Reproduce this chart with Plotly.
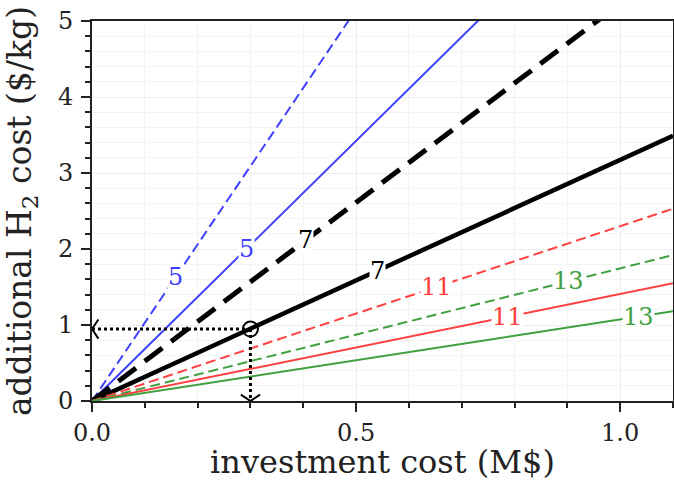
import plotly.graph_objects as go

# ---- data ----
x_max = 1.1
line_labels = ["5", "5", "7", "7", "11", "13", "11", "13"]
line_end_values = [11.33, 7.53, 5.75, 3.49, 2.53, 1.92, 1.55, 1.18]  # y at x = 1.1
line_colors = ["#4040ff", "#4040ff", "black", "black", "#ff4040", "#40a040", "#ff4040", "#40a040"]
line_dashes = ["10px,5px", "solid", "22px,11px", "solid", "10px,5px", "10px,5px", "solid", "solid"]
line_widths = [2, 2, 5, 4.5, 2, 2, 2, 2]
label_x = [0.159, 0.292, 0.405, 0.540, 0.652, 0.902, 0.786, 1.034]

point_x = 0.3
point_y = 0.947

x_ticks = [0.0, 0.5, 1.0]
x_tick_text = ["0.0", "0.5", "1.0"]
y_ticks = [0, 1, 2, 3, 4, 5]

FONT = "DejaVu Serif"

fig = go.Figure()

for lab, yend, col, dash, w in zip(line_labels, line_end_values, line_colors, line_dashes, line_widths):
    fig.add_trace(go.Scatter(x=[0, x_max], y=[0, yend], mode="lines",
                             line=dict(color=col, dash=dash, width=w),
                             showlegend=False, hoverinfo="skip"))

# dotted guide lines
fig.add_trace(go.Scatter(x=[0, point_x], y=[point_y, point_y], mode="lines",
                         line=dict(color="black", dash="dot", width=3), showlegend=False))
fig.add_trace(go.Scatter(x=[point_x, point_x], y=[point_y, 0], mode="lines",
                         line=dict(color="black", dash="dot", width=3), showlegend=False))
# chevrons
fig.add_trace(go.Scatter(x=[0], y=[point_y], mode="markers",
                         marker=dict(symbol="y-left", size=16, line=dict(color="black", width=2)),
                         showlegend=False))
fig.add_trace(go.Scatter(x=[point_x], y=[0], mode="markers",
                         marker=dict(symbol="y-down", size=16, line=dict(color="black", width=2)),
                         showlegend=False))
# circle
fig.add_trace(go.Scatter(x=[point_x], y=[point_y], mode="markers",
                         marker=dict(symbol="circle-open", size=15, color="black",
                                     line=dict(color="black", width=2)),
                         showlegend=False))

for lab, yend, col, lx in zip(line_labels, line_end_values, line_colors, label_x):
    fig.add_annotation(x=lx, y=yend / x_max * lx, xref="x", yref="y", text=lab,
                       showarrow=False, bgcolor="white", borderpad=0,
                       font=dict(family=FONT, size=24, color=col))

axis_common = dict(
    showline=True, linecolor="#222", linewidth=2, mirror=True,
    ticks="outside", ticklen=9, tickwidth=1.5, tickcolor="#222",
    showgrid=True, gridcolor="#ececec", gridwidth=1,
    zeroline=False, automargin=False, ticklabeloverflow="allow",
    tickfont=dict(family=FONT, size=24, color="#222"),
)

fig.update_xaxes(range=[0, x_max], tickvals=x_ticks, ticktext=x_tick_text,
                 minor=dict(dtick=0.1, ticks="outside", ticklen=5, tickwidth=1.5, tickcolor="#222",
                            showgrid=True, gridcolor="#f4f4f4"),
                 title=dict(text="investment cost (M$)", font=dict(family=FONT, size=32, color="#222"),
                            standoff=18),
                 **axis_common)
fig.update_yaxes(range=[0, 5], tickvals=y_ticks, ticklabelstandoff=3,
                 minor=dict(dtick=0.2, ticks="outside", ticklen=5, tickwidth=1.5, tickcolor="#222",
                            showgrid=True, gridcolor="#f4f4f4"),
                 title=dict(text="additional H<sub>2</sub> cost ($/kg)",
                            font=dict(family=FONT, size=33, color="#222"), standoff=19),
                 **axis_common)

fig.update_layout(width=674, height=481, plot_bgcolor="white", paper_bgcolor="white",
                  margin=dict(l=92, r=1, t=21, b=80), showlegend=False)

# remove the default page margin so the figure fills the window exactly
fig.write_html("out.html", config={"displayModeBar": False},
               post_script="document.body.style.margin='0';document.body.style.overflow='hidden';")
